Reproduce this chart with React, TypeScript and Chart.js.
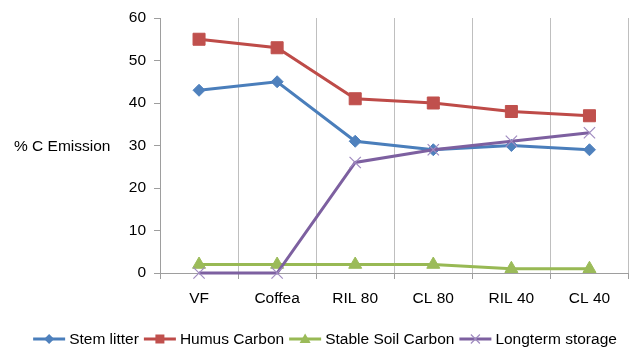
import { useEffect, useRef } from 'react';
import { Chart, registerables } from 'chart.js';

Chart.register(...registerables);

const categories = ['VF', 'Coffea', 'RIL 80', 'CL 80', 'RIL 40', 'CL 40'];
const stemLitter = [43, 45, 31, 29, 30, 29];
const humusCarbon = [55, 53, 41, 40, 38, 37];
const stableSoilCarbon = [2, 2, 2, 2, 1, 1];
const longtermStorage = [0, 0, 26, 29, 31, 33];
const seriesNames = ['Stem litter', 'Humus Carbon', 'Stable Soil Carbon', 'Longterm storage'];
const yMin = 0;
const yMax = 60;
const yStep = 10;
const yTitle = '% C Emission';

const FAMILY = '"Liberation Sans", Arial, sans-serif';
const FS = 15.5;
const lineColors = ['#4A7EBB', '#BE4B48', '#98B954', '#7D60A0'];
const markerColors = ['#4F81BD', '#C0504D', '#9BBB59', '#A08BC0'];
const markerStyles = ['rectRot', 'rect', 'triangle', 'crossRot'];
const markerRadius = [6, 8.5, 7.5, 8];

function drawMarker(ctx: CanvasRenderingContext2D, kind: string, x: number, y: number, color: string) {
  ctx.save();
  ctx.fillStyle = color;
  ctx.strokeStyle = color;
  ctx.beginPath();
  if (kind === 'rectRot') {
    const r = 5;
    ctx.moveTo(x, y - r);
    ctx.lineTo(x + r, y);
    ctx.lineTo(x, y + r);
    ctx.lineTo(x - r, y);
    ctx.closePath();
    ctx.fill();
  } else if (kind === 'rect') {
    ctx.rect(x - 4.5, y - 4.5, 9, 9);
    ctx.fill();
  } else if (kind === 'triangle') {
    ctx.moveTo(x, y - 5.5);
    ctx.lineTo(x + 5.5, y + 4);
    ctx.lineTo(x - 5.5, y + 4);
    ctx.closePath();
    ctx.fill();
  } else {
    ctx.lineWidth = 1.2;
    const r = 4.5;
    ctx.moveTo(x - r, y - r);
    ctx.lineTo(x + r, y + r);
    ctx.moveTo(x + r, y - r);
    ctx.lineTo(x - r, y + r);
    ctx.stroke();
  }
  ctx.restore();
}

// Horizontal y-axis title and the line+marker legend along the bottom
const sideText = {
  id: 'sideText',
  afterDraw(chart: any) {
    const { ctx, chartArea } = chart;
    ctx.save();
    ctx.font = `${FS}px ${FAMILY}`;
    ctx.fillStyle = '#000';
    ctx.textBaseline = 'middle';
    ctx.textAlign = 'left';
    ctx.fillText(yTitle, 14, (chartArea.top + chartArea.bottom) / 2 + 1);

    const sample = 32;
    const gapText = 4;
    const gapItem = 5;
    const widths = seriesNames.map((n) => ctx.measureText(n).width);
    const total =
      widths.reduce((a: number, w: number) => a + sample + gapText + w, 0) + gapItem * (seriesNames.length - 1);
    let x = 325 - total / 2;
    const y = 340;
    seriesNames.forEach((name, i) => {
      ctx.strokeStyle = lineColors[i];
      ctx.lineWidth = 3;
      ctx.beginPath();
      ctx.moveTo(x, y - 1);
      ctx.lineTo(x + sample, y - 1);
      ctx.stroke();
      drawMarker(ctx, markerStyles[i], x + sample / 2, y - 1, markerColors[i]);
      ctx.fillStyle = '#000';
      ctx.fillText(name, x + sample + gapText, y);
      x += sample + gapText + widths[i] + gapItem;
    });
    ctx.restore();
  },
};

export default function App() {
  const ref = useRef<HTMLCanvasElement | null>(null);

  useEffect(() => {
    if (!ref.current) return;
    const series = [stemLitter, humusCarbon, stableSoilCarbon, longtermStorage];
    const chart = new Chart(ref.current, {
      type: 'line',
      data: {
        labels: categories,
        datasets: series.map((values, i) => ({
          label: seriesNames[i],
          data: values,
          borderColor: lineColors[i],
          backgroundColor: markerColors[i],
          borderWidth: 3,
          pointStyle: markerStyles[i] as any,
          pointRadius: markerRadius[i],
          pointBackgroundColor: markerColors[i],
          pointBorderColor: markerColors[i],
          pointBorderWidth: i === 3 ? 1.2 : 1,
          tension: 0,
          clip: false as any,
          order: 3 - i,
        })),
      },
      options: {
        animation: false,
        responsive: false,
        maintainAspectRatio: false,
        layout: { padding: { left: 115, right: 5, top: 18, bottom: 40 } },
        plugins: {
          legend: { display: false },
          tooltip: { enabled: false },
        },
        scales: {
          x: {
            offset: true,
            afterFit: (s: any) => {
              s.height = 37;
            },
            grid: {
              offset: true,
              color: '#BFBFBF',
              lineWidth: 1,
              drawTicks: true,
              tickLength: 6,
              tickColor: '#9E9E9E',
            },
            border: { display: true, color: '#9E9E9E' },
            ticks: {
              color: '#000',
              font: { family: FAMILY, size: FS },
              padding: 10,
              maxRotation: 0,
            },
          },
          y: {
            min: yMin,
            max: yMax,
            afterFit: (s: any) => {
              s.width = 45;
            },
            grid: {
              drawOnChartArea: false,
              drawTicks: true,
              tickLength: 6,
              color: '#9E9E9E',
            },
            border: { display: true, color: '#9E9E9E' },
            ticks: {
              stepSize: yStep,
              color: '#000',
              font: { family: FAMILY, size: FS },
              padding: 8,
            },
          },
        },
      },
      plugins: [sideText],
    });
    return () => chart.destroy();
  }, []);

  return (
    <div style={{ position: 'fixed', left: 0, top: 0, width: 638, height: 350, background: '#fff' }}>
      <canvas ref={ref} width={638} height={350} style={{ width: 638, height: 350, display: 'block' }} />
    </div>
  );
}
